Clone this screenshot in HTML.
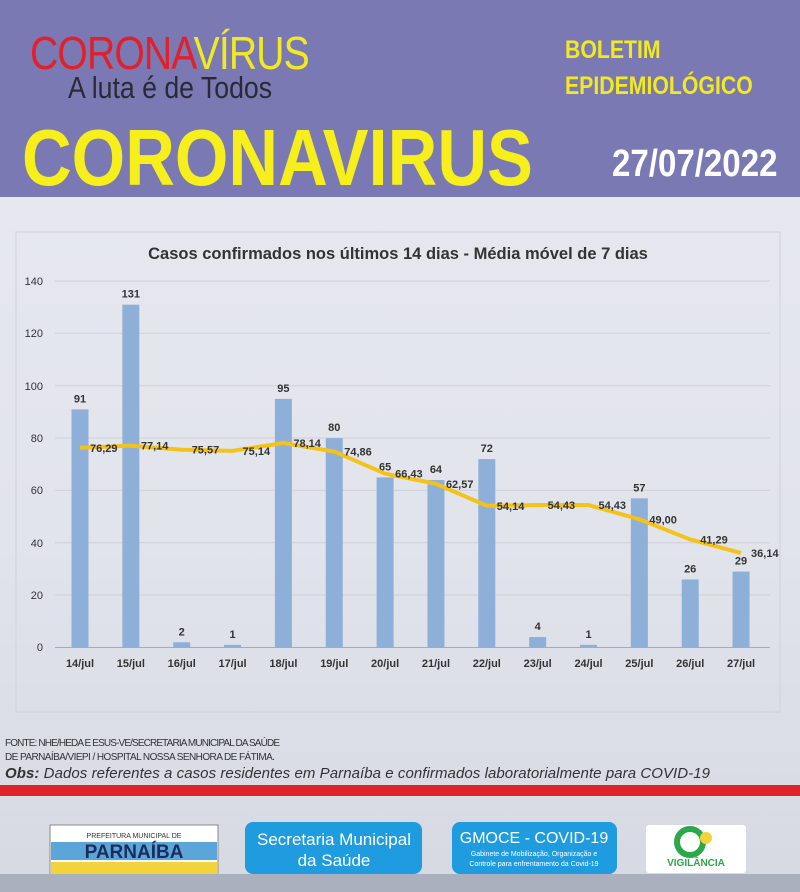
<!DOCTYPE html>
<html><head><meta charset="utf-8"><style>
html,body{margin:0;padding:0}
body{width:800px;height:892px;position:relative;overflow:hidden;background:linear-gradient(180deg,#e8e9f1 0%,#e2e4ec 60%,#d6d9e2 100%);font-family:"Liberation Sans",sans-serif}
.hdr{position:absolute;left:0;top:0;width:800px;height:197px;background:#7b79b3}
.t{position:absolute;white-space:nowrap}
</style></head><body>
<div class="hdr"></div>
<div class="t" style="left:30px;top:26px;font-size:46px;color:#e0202a;letter-spacing:-1px;transform:scaleX(0.85);transform-origin:left">CORONA<span style="color:#f2ea20">VÍRUS</span></div>
<div class="t" style="left:68px;top:70px;font-size:31px;color:#2a2a35;transform:scaleX(0.86);transform-origin:left">A luta é de Todos</div>
<div class="t" style="left:565px;top:32px;font-size:25px;font-weight:bold;color:#f2ea20;transform:scaleX(0.85);transform-origin:left;line-height:36px">BOLETIM<br>EPIDEMIOLÓGICO</div>
<div class="t" style="left:22px;top:112px;font-size:80px;font-weight:bold;color:#f7ef1c;transform:scaleX(0.86);transform-origin:left">CORONAVIRUS</div>
<div class="t" style="left:612px;top:143px;font-size:38px;font-weight:bold;color:#fff;transform:scaleX(0.87);transform-origin:left">27/07/2022</div>

<svg style="position:absolute;left:0;top:0" width="800" height="892">
<rect x="16" y="232" width="764" height="480" fill="none" stroke="#d0d2da"/>
<text x="398" y="259" text-anchor="middle" font-family="Liberation Sans" font-weight="bold" font-size="16.5" fill="#333">Casos confirmados nos últimos 14 dias  - Média móvel de 7 dias</text>
<g stroke="#cfd0d6" stroke-width="1">
<line x1="55" x2="770" y1="281" y2="281"/><line x1="55" x2="770" y1="333.3" y2="333.3"/><line x1="55" x2="770" y1="385.7" y2="385.7"/><line x1="55" x2="770" y1="438" y2="438"/><line x1="55" x2="770" y1="490.3" y2="490.3"/><line x1="55" x2="770" y1="542.7" y2="542.7"/><line x1="55" x2="770" y1="595" y2="595"/><line x1="55" x2="770" y1="647.5" y2="647.5" stroke="#aaa"/>
</g>
<g font-family="Liberation Sans" font-size="11" fill="#333" text-anchor="end">
<text x="43" y="285">140</text><text x="43" y="337">120</text><text x="43" y="390">100</text><text x="43" y="442">80</text><text x="43" y="494">60</text><text x="43" y="547">40</text><text x="43" y="599">20</text><text x="43" y="651">0</text>
</g>
<g fill="#8eb0d8" id="bars"></g>
<g id="lbl" font-family="Liberation Sans" font-size="11" font-weight="bold" fill="#333" text-anchor="middle"></g>
<polyline id="ln" fill="none" stroke="#f5c21a" stroke-width="4" stroke-linejoin="round"/>
<g id="ml" font-family="Liberation Sans" font-size="11" font-weight="bold" fill="#333"></g>
<g id="xl" font-family="Liberation Sans" font-size="11" font-weight="bold" fill="#333" text-anchor="middle"></g>
<text x="5" y="746" font-family="Liberation Sans" font-size="10" fill="#333" textLength="275">FONTE: NHE/HEDA E ESUS-VE/SECRETARIA MUNICIPAL DA SAÚDE</text>
<text x="5" y="760" font-family="Liberation Sans" font-size="10" fill="#333" textLength="270">DE PARNAÍBA/VIEPI / HOSPITAL NOSSA SENHORA DE FÁTIMA.</text>
<text x="5" y="778" font-family="Liberation Sans" font-size="15" font-style="italic" fill="#333" textLength="705"><tspan font-weight="bold">Obs:</tspan> Dados referentes a casos residentes em Parnaíba e confirmados laboratorialmente para COVID-19</text>
<rect x="0" y="785" width="800" height="11" fill="#e0232a"/>
<rect x="50" y="825" width="168" height="50" fill="#fff" stroke="#888"/>
<text x="134" y="838" text-anchor="middle" font-family="Liberation Sans" font-size="7" fill="#333">PREFEITURA MUNICIPAL DE</text>
<rect x="51" y="842" width="166" height="18" fill="#5aa6d8"/>
<text x="134" y="858" text-anchor="middle" font-family="Liberation Sans" font-weight="bold" font-size="19" fill="#1c2c5c">PARNAÍBA</text>
<rect x="51" y="862" width="166" height="12" fill="#f3d33a"/>
<rect x="245" y="822" width="177" height="52" rx="8" fill="#1f9ce0"/>
<text x="334" y="845" text-anchor="middle" font-family="Liberation Sans" font-size="17" fill="#fff">Secretaria Municipal</text>
<text x="334" y="866" text-anchor="middle" font-family="Liberation Sans" font-size="17" fill="#fff">da Saúde</text>
<rect x="452" y="822" width="165" height="52" rx="8" fill="#1f9ce0"/>
<text x="534" y="843" text-anchor="middle" font-family="Liberation Sans" font-size="16" fill="#fff">GMOCE - COVID-19</text>
<text x="534" y="856" text-anchor="middle" font-family="Liberation Sans" font-size="7" fill="#fff">Gabinete de Mobilização, Organização e</text>
<text x="534" y="866" text-anchor="middle" font-family="Liberation Sans" font-size="7" fill="#fff">Controle para enfrentamento da Covid-19</text>
<rect x="646" y="825" width="100" height="48" rx="3" fill="#fff"/>
<circle cx="690" cy="842" r="13" fill="none" stroke="#2aa84a" stroke-width="6"/>
<circle cx="706" cy="838" r="6" fill="#f3d33a"/>
<text x="696" y="866" text-anchor="middle" font-family="Liberation Sans" font-weight="bold" font-size="10" fill="#2aa84a">VIGILÂNCIA</text>
<rect x="0" y="874" width="800" height="18" fill="#aab0be"/>
</svg>
<script>
var b=[91,131,2,1,95,80,65,64,72,4,1,57,26,29],m=[76.29,77.14,75.57,75.14,78.14,74.86,66.43,62.57,54.14,54.43,54.43,49.00,41.29,36.14];
var ns="http://www.w3.org/2000/svg";function el(p,t,a,s){var e=document.createElementNS(ns,t);for(var k in a)e.setAttribute(k,a[k]);if(s!=null)e.textContent=s;document.getElementById(p).appendChild(e);}
var pts=[];for(var i=0;i<14;i++){var x=80+i*50.85,y=647.5-b[i]*2.617;el("bars","rect",{x:x-8.5,y:y,width:17,height:b[i]*2.617});el("lbl","text",{x:x,y:y-7},b[i]);var my=647.5-m[i]*2.617;pts.push(x+","+my);el("ml","text",{x:x+10,y:my+4},m[i].toFixed(2).replace(".",","));el("xl","text",{x:x,y:667},(14+i)+"/jul");}
document.getElementById("ln").setAttribute("points",pts.join(" "));
</script>
</body></html>
